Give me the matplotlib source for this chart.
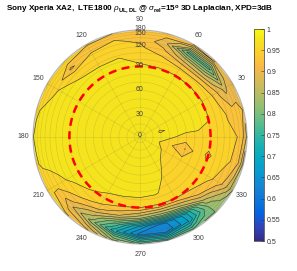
import numpy as np
import matplotlib
matplotlib.use("Agg")
import matplotlib.pyplot as plt
from matplotlib.colors import LinearSegmentedColormap, Normalize
import matplotlib.cm as cm

plt.rcParams['font.family'] = ['Liberation Sans', 'DejaVu Sans']
plt.rcParams['mathtext.fontset'] = 'custom'
plt.rcParams['mathtext.rm'] = 'Liberation Sans'
plt.rcParams['mathtext.it'] = 'Liberation Sans:italic'
plt.rcParams['mathtext.bf'] = 'Liberation Sans:bold'

# ---------------- data ----------------
phi_deg = [0, 15, 30, 45, 60, 75, 90, 105, 120, 135, 150, 165,
           180, 195, 210, 225, 240, 255, 270, 285, 300, 315, 330, 345]
theta_deg = [0, 30, 60, 75, 90, 105, 120, 135, 150, 165, 180]

rho_t000 = [0.990] * 24
rho_t030 = [0.980, 0.9735, 0.979, 0.985, 0.986, 0.987, 0.988, 0.988, 0.988, 0.988, 0.988, 0.988,
            0.988, 0.988, 0.988, 0.987, 0.987, 0.986, 0.985, 0.984, 0.982, 0.979, 0.977, 0.974]
rho_t060 = [0.971, 0.982, 0.985, 0.986, 0.986, 0.987, 0.988, 0.988, 0.988, 0.988, 0.988, 0.988,
            0.988, 0.988, 0.988, 0.987, 0.986, 0.985, 0.984, 0.981, 0.974, 0.966, 0.962, 0.924]
rho_t075 = [0.970, 0.982, 0.984, 0.985, 0.985, 0.985, 0.986, 0.987, 0.987, 0.987, 0.988, 0.988,
            0.988, 0.988, 0.987, 0.985, 0.982, 0.980, 0.979, 0.977, 0.968, 0.966, 0.964, 0.963]
rho_t090 = [0.968, 0.976, 0.977, 0.977, 0.977, 0.977, 0.979, 0.983, 0.984, 0.985, 0.987, 0.988,
            0.988, 0.988, 0.986, 0.980, 0.968, 0.957, 0.950, 0.948, 0.952, 0.958, 0.962, 0.945]
rho_t105 = [0.962, 0.962, 0.958, 0.945, 0.945, 0.958, 0.965, 0.976, 0.975, 0.978, 0.985, 0.988,
            0.988, 0.987, 0.980, 0.962, 0.940, 0.900, 0.855, 0.835, 0.865, 0.930, 0.955, 0.962]
rho_t120 = [0.955, 0.948, 0.920, 0.870, 0.880, 0.930, 0.955, 0.962, 0.962, 0.965, 0.980, 0.986,
            0.988, 0.986, 0.970, 0.935, 0.880, 0.790, 0.690, 0.640, 0.710, 0.870, 0.940, 0.955]
rho_t135 = [0.950, 0.935, 0.890, 0.790, 0.790, 0.910, 0.945, 0.955, 0.950, 0.920, 0.970, 0.982,
            0.986, 0.984, 0.958, 0.905, 0.840, 0.730, 0.640, 0.625, 0.700, 0.830, 0.915, 0.945]
rho_t150 = [0.930, 0.930, 0.915, 0.870, 0.880, 0.925, 0.940, 0.945, 0.945, 0.950, 0.962, 0.976,
            0.985, 0.980, 0.955, 0.930, 0.895, 0.810, 0.740, 0.720, 0.760, 0.825, 0.885, 0.920]
rho_t165 = [0.910, 0.925, 0.925, 0.925, 0.930, 0.935, 0.935, 0.935, 0.950, 0.955, 0.965, 0.972,
            0.980, 0.972, 0.960, 0.950, 0.920, 0.840, 0.790, 0.775, 0.795, 0.825, 0.860, 0.880]
rho_t180 = [0.890, 0.910, 0.915, 0.920, 0.925, 0.930, 0.930, 0.950, 0.955, 0.958, 0.962, 0.970,
            0.972, 0.970, 0.965, 0.955, 0.930, 0.860, 0.815, 0.800, 0.815, 0.835, 0.850, 0.860]

rho_rows = [rho_t000, rho_t030, rho_t060, rho_t075, rho_t090, rho_t105,
            rho_t120, rho_t135, rho_t150, rho_t165, rho_t180]

contour_levels = np.arange(0.5, 1.0001, 0.025)
cbar_ticks = [0.5, 0.55, 0.6, 0.65, 0.7, 0.75, 0.8, 0.85, 0.9, 0.95, 1.0]
azimuth_ticks = [0, 30, 60, 90, 120, 150, 180, 210, 240, 270, 300, 330]
theta_ticks = [0, 30, 60, 90, 120, 150, 180]
theta_ref = 90

title = (r'Sony Xperia XA2,  LTE1800 $\rho_{\mathbf{UL,DL}}$ @ '
         r'$\sigma_{\mathbf{rel}}$=15$^{\mathbf{o}}$ 3D Laplacian, XPD=3dB')

# ---------------- parula-like colormap ----------------
parula_pts = [
    (0.2081, 0.1663, 0.5292), (0.1959, 0.2645, 0.7279), (0.0117, 0.3875, 0.8820),
    (0.0498, 0.4586, 0.8641), (0.0793, 0.5200, 0.8312), (0.0343, 0.5966, 0.8199),
    (0.0228, 0.6535, 0.7768), (0.0843, 0.6928, 0.7062), (0.2178, 0.7250, 0.6193),
    (0.3953, 0.7459, 0.5244), (0.5709, 0.7485, 0.4494), (0.7184, 0.7411, 0.3905),
    (0.8507, 0.7299, 0.3360), (0.9739, 0.7314, 0.2666), (0.9880, 0.8066, 0.1794),
    (0.9589, 0.8949, 0.1132), (0.9763, 0.9831, 0.0538)]
parula_pos = [0, 4, 8, 12, 16, 20, 24, 28, 32, 36, 40, 44, 48, 52, 56, 60, 63]
cmap = LinearSegmentedColormap.from_list(
    'parula', [(p / 63.0, c) for p, c in zip(parula_pos, parula_pts)], N=256)
norm = Normalize(0.5, 1.0)


def radial(theta):
    return np.sin(np.radians(theta) / 2.0) ** 1.2


# ---------------- grid ----------------
Z = np.array(rho_rows)
Z = np.hstack([Z, Z[:, :1]])
P = np.radians(np.append(phi_deg, 360))
T = np.array(theta_deg, float)
PP, TT = np.meshgrid(P, T)
RR = radial(TT)
X = RR * np.cos(PP)
Y = RR * np.sin(PP)

W, H = 297, 271
fig = plt.figure(figsize=(W / 100, H / 100), dpi=100)
R = 107.0
cx, cy = 140.0, 137.0
span = 1.25
ax = fig.add_axes([(cx - span * R) / W, (H - cy - span * R) / H,
                   2 * span * R / W, 2 * span * R / H])
ax.set_xlim(-span, span)
ax.set_ylim(-span, span)
ax.axis('off')

band_colors = [cmap(norm(l)) for l in contour_levels[:-1]]
ax.contourf(X, Y, Z, levels=contour_levels, colors=band_colors, antialiased=True)
ax.contour(X, Y, Z, levels=contour_levels, colors='k', linewidths=0.4, alpha=0.8)

# polar grid
t = np.linspace(0, 2 * np.pi, 361)
for th in range(10, 180, 10):
    r = radial(th)
    ax.plot(r * np.cos(t), r * np.sin(t), color='0.3', lw=0.4, alpha=0.2)
for az in azimuth_ticks:
    a = np.radians(az)
    ax.plot([0, np.cos(a)], [0, np.sin(a)], color='0.3', lw=0.4, alpha=0.2)
ax.plot(np.cos(t), np.sin(t), color='0.45', lw=0.8, alpha=0.5)

# red reference circle
rr = radial(theta_ref)
ax.plot(rr * np.cos(t), rr * np.sin(t), color='red', lw=1.8,
        linestyle=(0, (3.2, 2.2)))

# labels
for az in azimuth_ticks:
    a = np.radians(az)
    ax.text(1.095 * np.cos(a), 1.095 * np.sin(a), str(az), ha='center', va='center',
            fontsize=5, color='0.25')
for th in theta_ticks:
    ax.text(0, radial(th) + 0.01, str(th), ha='center', va='center',
            fontsize=5, color='0.25')

# colorbar
cax = fig.add_axes([254 / W, 1 - 241 / H, 10 / W, 212 / H])
cb = fig.colorbar(cm.ScalarMappable(norm=norm, cmap=cmap), cax=cax, ticks=cbar_ticks)
cb.ax.set_yticklabels(['%g' % v for v in cbar_ticks])
cb.ax.tick_params(labelsize=5, direction='in', length=2, width=0.4,
                  colors='0.2', pad=2)
cb.outline.set_linewidth(0.5)
cb.outline.set_edgecolor('0.2')

fig.text(140 / W, 1 - 9 / H, title, ha='center', va='center', fontsize=5.9,
         fontweight='bold')

fig.savefig('out.png', dpi=100)
